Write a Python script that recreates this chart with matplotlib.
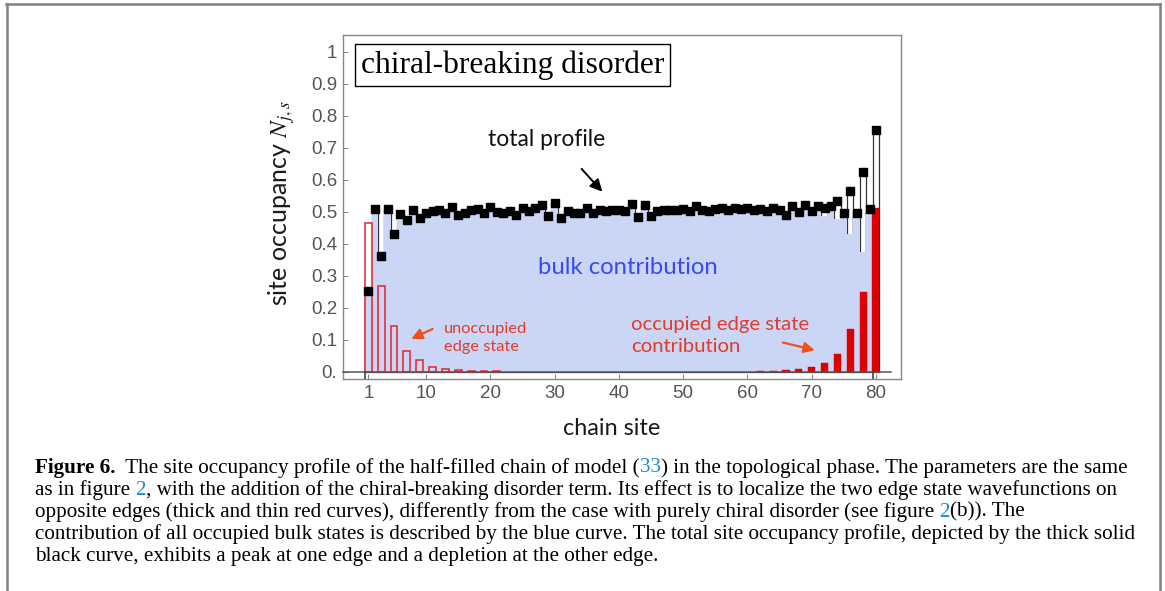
import matplotlib
matplotlib.use('Agg')
import numpy as np
import matplotlib.pyplot as plt
from matplotlib.lines import Line2D

plt.rcParams['mathtext.fontset'] = 'stix'

# Data
sites = np.arange(1, 81)

total = [0.251, 0.508, 0.360, 0.508, 0.430, 0.494, 0.475, 0.506, 0.480, 0.496,
         0.501, 0.506, 0.496, 0.515, 0.488, 0.496, 0.504, 0.508, 0.496, 0.515,
         0.498, 0.496, 0.501, 0.491, 0.511, 0.501, 0.511, 0.520, 0.485, 0.526,
         0.480, 0.501, 0.496, 0.496, 0.511, 0.496, 0.506, 0.503, 0.506, 0.506,
         0.501, 0.525, 0.483, 0.522, 0.485, 0.501, 0.506, 0.506, 0.506, 0.508,
         0.501, 0.517, 0.506, 0.501, 0.508, 0.511, 0.506, 0.511, 0.508, 0.511,
         0.506, 0.508, 0.501, 0.511, 0.506, 0.491, 0.517, 0.498, 0.522, 0.501,
         0.519, 0.511, 0.517, 0.532, 0.496, 0.564, 0.496, 0.623, 0.508, 0.754]

bulk = [0.251, 0.508, 0.360, 0.508, 0.430, 0.494, 0.475, 0.506, 0.480, 0.496,
        0.501, 0.506, 0.496, 0.515, 0.488, 0.496, 0.504, 0.508, 0.496, 0.515,
        0.498, 0.496, 0.501, 0.491, 0.511, 0.501, 0.511, 0.520, 0.485, 0.526,
        0.480, 0.501, 0.496, 0.496, 0.511, 0.496, 0.506, 0.503, 0.506, 0.506,
        0.501, 0.525, 0.483, 0.522, 0.485, 0.501, 0.506, 0.506, 0.506, 0.508,
        0.501, 0.517, 0.506, 0.501, 0.508, 0.511, 0.506, 0.511, 0.508, 0.511,
        0.506, 0.507, 0.501, 0.509, 0.506, 0.487, 0.517, 0.491, 0.522, 0.486,
        0.519, 0.485, 0.517, 0.476, 0.496, 0.430, 0.496, 0.375, 0.508, 0.244]

unocc_sites = [1, 3, 5, 7, 9, 11, 13, 15, 17, 19, 21]
unocc_vals = [0.465, 0.267, 0.142, 0.065, 0.035, 0.016, 0.008, 0.004, 0.003, 0.002, 0.001]

occ_sites = [62, 64, 66, 68, 70, 72, 74, 76, 78, 80]
occ_vals = [0.001, 0.002, 0.004, 0.007, 0.015, 0.026, 0.056, 0.134, 0.248, 0.510]

ytick_vals = [0, 0.1, 0.2, 0.3, 0.4, 0.5, 0.6, 0.7, 0.8, 0.9, 1.0]
ytick_labels = ['0.', '0.1', '0.2', '0.3', '0.4', '0.5', '0.6', '0.7', '0.8', '0.9', '1']
xtick_vals = [1, 10, 20, 30, 40, 50, 60, 70, 80]

BLUE = '#cbd6f7'
RED = '#dd0000'
TXT_RED = '#e03c28'
ARR_RED = '#f0501a'
GRAY = '#555555'
SANS = ['Lato', 'DejaVu Sans']

W, H = 1165, 591
fig = plt.figure(figsize=(W / 100, H / 100), dpi=100)
ax = fig.add_axes([343 / W, 1 - 379 / H, (901 - 343) / W, (379 - 35) / H])

# total profile bars (white with dark outline), then bulk on top
ax.bar(sites, total, width=1.0, color='white', edgecolor='#333333', linewidth=0.9, zorder=1)
ax.bar(sites, bulk, width=1.0, color=BLUE, edgecolor='none', linewidth=0, zorder=2)
# edge states
ax.bar(unocc_sites, unocc_vals, width=1.05, facecolor='none', edgecolor='#e5222a',
       linewidth=1.1, zorder=3)
ax.bar(occ_sites, occ_vals, width=1.1, color=RED, edgecolor=RED, linewidth=0.3, zorder=3)
# total profile markers
ax.plot(sites, total, 's', color='black', markersize=6.0, zorder=6)

# horizontal axis at zero and axis crossing marks
ax.plot([-2.9, 82.4], [0, 0], color='#555555', lw=1.1, zorder=4, clip_on=False)
for xv in [1, 80]:
    ax.plot([xv - 0.45, xv - 0.45], [-0.023, 0.0], color='#444444', lw=1.2, zorder=4)

ax.set_xlim(-2.94, 83.9)
ax.set_ylim(-0.023, 1.052)
ax.set_xticks(xtick_vals)
ax.set_xticklabels([str(v) for v in xtick_vals], family=['Liberation Sans'], fontsize=13.5, color=GRAY)
ax.set_yticks(ytick_vals)
ax.set_yticklabels(ytick_labels, family=['Liberation Sans'], fontsize=13.5, color=GRAY)
ax.tick_params(direction='in', length=3.5, width=0.8, color='#888888', pad=4)
for s in ax.spines.values():
    s.set_color('#888888')
    s.set_linewidth(1.0)

ax.set_ylabel(r'site occupancy $N_{j,s}$', family=SANS, fontsize=18, color='#1a1a1a')
ax.yaxis.set_label_coords(-0.083, 0.512)
ax.set_xlabel('chain site', family=SANS, fontsize=16.8, color='#1a1a1a')
ax.xaxis.set_label_coords(0.482, -0.112)

# annotations
ax.text(-0.14, 0.958, 'chiral-breaking disorder', family=['Liberation Serif'], fontsize=22.7,
        ha='left', va='center', zorder=7,
        bbox=dict(boxstyle='square,pad=0.19', facecolor='white', edgecolor='black', linewidth=1.0))
ax.text(28.7, 0.727, 'total profile', family=SANS, fontsize=16.5, ha='center', va='center', color='#111111')
ax.annotate('', xy=(37.7, 0.556), xytext=(33.9, 0.640),
            arrowprops=dict(arrowstyle='-|>', color='black', lw=1.4, mutation_scale=18), zorder=7)
ax.text(41.4, 0.324, 'bulk contribution', family=SANS, fontsize=17.2, ha='center', va='center',
        color='#3a4af0', zorder=7)
ax.text(12.8, 0.104, 'unoccupied\nedge state', family=SANS, fontsize=11.8, ha='left', va='center',
        color=TXT_RED, linespacing=1.35, zorder=7)
ax.annotate('', xy=(7.3, 0.099), xytext=(11.4, 0.137),
            arrowprops=dict(arrowstyle='-|>', color=ARR_RED, lw=1.6, mutation_scale=16), zorder=7)
ax.text(41.9, 0.113, 'occupied edge state\ncontribution', family=SANS, fontsize=14.6, ha='left',
        va='center', color=TXT_RED, linespacing=1.3, zorder=7)
ax.annotate('', xy=(70.9, 0.065), xytext=(65.1, 0.093),
            arrowprops=dict(arrowstyle='-|>', color=ARR_RED, lw=1.6, mutation_scale=16), zorder=7)

# page border
for (x0, y0, x1, y1) in [(6, 4, 1160, 4), (7, 4, 7, 591), (1160, 4, 1160, 591)]:
    fig.add_artist(Line2D([x0 / W, x1 / W], [1 - y0 / H, 1 - y1 / H], color='#808080', lw=1.8))

# caption, drawn piece by piece so the reference numbers can be blue
LINK = '#1f8ad6'
caption = [
    [('Figure 6.', 'black', 'bold'), ('  The site occupancy profile of the half-filled chain of model (', 'black', 'normal'),
     ('33', LINK, 'normal'), (') in the topological phase. The parameters are the same', 'black', 'normal')],
    [('as in figure ', 'black', 'normal'), ('2', LINK, 'normal'),
     (', with the addition of the chiral-breaking disorder term. Its effect is to localize the two edge state wavefunctions on', 'black', 'normal')],
    [('opposite edges (thick and thin red curves), differently from the case with purely chiral disorder (see figure ', 'black', 'normal'),
     ('2', LINK, 'normal'), ('(b)). The', 'black', 'normal')],
    [('contribution of all occupied bulk states is described by the blue curve. The total site occupancy profile, depicted by the thick solid', 'black', 'normal')],
    [('black curve, exhibits a peak at one edge and a depletion at the other edge.', 'black', 'normal')],
]
renderer = fig.canvas.get_renderer()
cap_fs = 15.2
for i, line in enumerate(caption):
    xp = 35
    yp = 468 + i * 22.1
    for s, c, wgt in line:
        t = fig.text(xp / W, 1 - yp / H, s, family=['Liberation Serif'], fontsize=cap_fs,
                     color=c, weight=wgt, ha='left', va='center')
        bb = t.get_window_extent(renderer)
        xp += bb.width

fig.savefig('out.png', dpi=100)
